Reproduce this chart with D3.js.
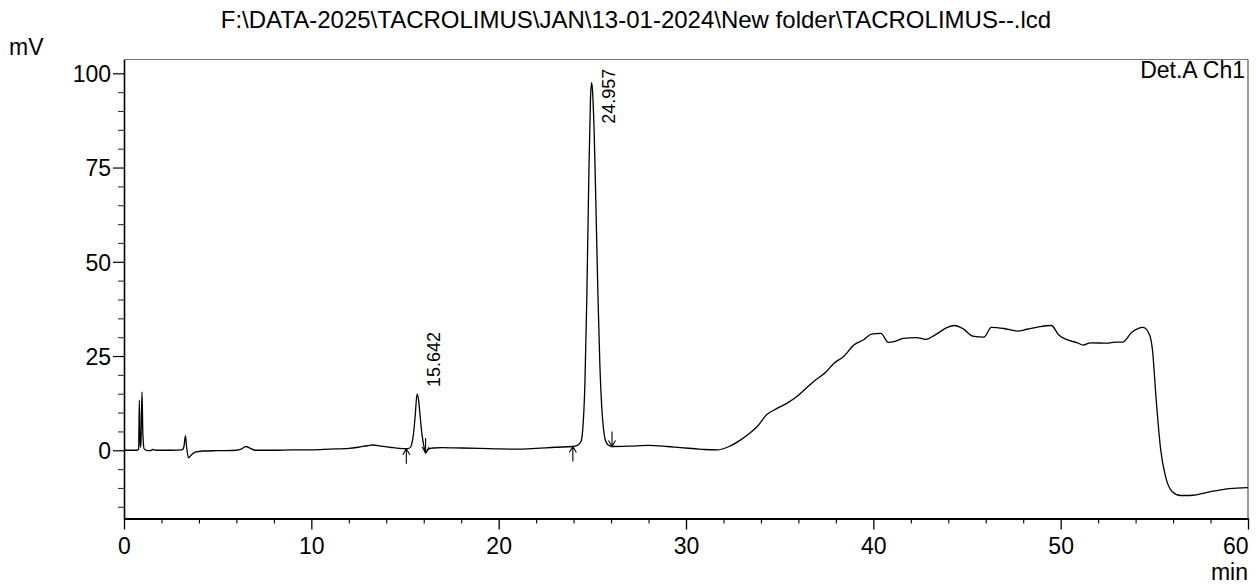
<!DOCTYPE html>
<html>
<head>
<meta charset="utf-8">
<script src="https://cdn.jsdelivr.net/npm/d3@7"></script>
<style>
  html, body { margin: 0; padding: 0; background: #fff; }
  svg { display: block; }
  text { font-family: "Liberation Sans", Arial, Helvetica, sans-serif; fill: #000; }
</style>
</head>
<body>
<svg id="chart" width="1256" height="585"></svg>
<script>
// ---- data ----
const title = "F:\\DATA-2025\\TACROLIMUS\\JAN\\13-01-2024\\New folder\\TACROLIMUS--.lcd";
const channelLabel = "Det.A Ch1";
const yUnit = "mV";
const xUnit = "min";

const timeMin = [
  0, 0.7, 0.78, 0.82, 0.86, 0.9, 0.96, 1.01, 1.08, 1.2, 1.4, 1.55, 1.7, 2.5,
  3.1, 3.2, 3.28, 3.34, 3.44, 3.6, 3.8, 4.2, 5.0, 6.0, 6.25, 6.5, 6.75, 7.0,
  8.0, 9.0, 10.0, 11.0, 12.0, 12.5, 13.0, 13.3, 13.7, 14.2, 14.7, 15.07,
  15.25, 15.35, 15.45, 15.55, 15.642, 15.72, 15.8, 15.9, 16.0, 16.1, 16.25,
  16.5, 17.0, 18.0, 19.0, 20.0, 21.0, 22.0, 23.0, 23.96, 24.2, 24.4, 24.5,
  24.6, 24.7, 24.8, 24.9, 24.957, 25.0, 25.1, 25.2, 25.3, 25.4, 25.5, 25.6,
  25.7, 25.85, 26.05, 27.0, 28.0, 29.0, 29.7, 30.5, 31.0, 31.66, 32.3, 32.9,
  33.4, 33.8, 34.3, 34.86, 35.4, 35.9, 36.4, 36.8, 37.5, 37.9, 38.4, 38.96,
  39.5, 39.9, 40.4, 40.8, 41.1, 41.6, 42.3, 42.8, 43.3, 43.95, 44.3, 44.8,
  45.3, 45.9, 46.3, 46.97, 47.7, 48.2, 48.9, 49.5, 49.9, 50.3, 50.9, 51.2,
  51.6, 52.5, 52.9, 53.3, 53.8, 54.4, 54.75, 54.9, 55.1, 55.34, 55.6, 55.96,
  56.4, 56.9, 58.2, 59.0, 60.0
];
const signalMv = [
  0, 0, 0.3, 13.3, 0.8, 1.5, 15.5, 4, 0.3, 0, -0.1, 0.2, 0, 0,
  0.1, 1.0, 3.9, 1.0, -2.0, -1.2, -0.5, -0.2, -0.1, 0, 0.3, 1.0, 0.5, 0,
  0, 0.1, 0.1, 0.3, 0.5, 0.8, 1.2, 1.4, 1.1, 0.8, 0.5, 0.4,
  0.6, 1.5, 4.2, 9.5, 14.9, 13.5, 9.5, 4.5, 1.3, -0.7, 0.3,
  0.6, 0.7, 0.6, 0.5, 0.35, 0.3, 0.5, 0.8, 1.0, 1.3, 2.4, 6.3,
  17, 39, 69, 93, 97.5, 96, 84, 63, 41, 23, 11.7, 5.5,
  2.6, 1.4, 1.0, 1.1, 1.3, 1.0, 0.7, 0.4, 0.2, 0.1, 1.0, 2.7,
  4.5, 6.3, 9.4, 11.1, 12.5, 14.2, 16.4, 18.2, 20.9, 23.1, 24.8, 27.9,
  29.4, 30.8, 31.0, 28.6, 28.8, 29.7, 29.9, 29.4, 30.6, 32.6, 33.1, 32.2,
  30.3, 30.0, 32.6, 32.3, 31.6, 32.1, 32.8, 33.1, 30.6, 29.4, 28.5, 27.9,
  28.5, 28.4, 28.7, 28.7, 31.3, 32.6, 30.6, 26.6, 13.3, 0.1, -7.0, -11.0,
  -12.0, -12.0, -10.8, -10.2, -9.9
];

const peakTimes  = [15.642, 24.957];
const peakHeights = [14.9, 97.5];
const peakLabels = ["15.642", "24.957"];
const peakStartTimes = [15.07, 23.96];
const peakStartValues = [0.4, 1.0];
const peakEndTimes = [16.1, 26.05];
const peakEndValues = [-0.7, 1.0];

const xMajorTicks = [0, 10, 20, 30, 40, 50, 60];
const yMajorTicks = [0, 25, 50, 75, 100];
const xDomain = [0, 60];
const yDomain = [-18.1, 103.66];

// ---- layout ----
const svg = d3.select("#chart");
const mLeft = 124, mRight = 1248, mTop = 59.5, mBottom = 518.5;
const FONT = 23;

const x = d3.scaleLinear().domain(xDomain).range([mLeft, mRight]);
const y = d3.scaleLinear().domain(yDomain).range([mBottom, mTop]);

// minor ticks
const xMinor = d3.range(xDomain[0], xDomain[1] + 0.001, 2).filter(v => v % 10 !== 0);
const yMinor = d3.range(-15, 101, 5).filter(v => v % 25 !== 0);

// frame (top + right in gray)
svg.append("line").attr("x1", mLeft).attr("x2", mRight).attr("y1", mTop).attr("y2", mTop)
  .attr("stroke", "#777").attr("stroke-width", 1.2);
svg.append("line").attr("x1", mRight).attr("x2", mRight).attr("y1", mTop).attr("y2", mBottom)
  .attr("stroke", "#777").attr("stroke-width", 1.5);

// x axis
const gx = svg.append("g").attr("transform", `translate(0,${mBottom})`);
gx.call(d3.axisBottom(x).tickValues(xMajorTicks).tickSize(11).tickSizeOuter(0).tickFormat(d3.format("d")));
gx.select(".domain").attr("stroke", "#000").attr("stroke-width", 2.2);
gx.selectAll(".tick line").attr("stroke", "#000").attr("stroke-width", 1.3);
gx.selectAll(".tick text").attr("font-size", FONT).attr("dy", 0).attr("y", 35)
  .attr("font-family", "Liberation Sans, Arial, sans-serif")
  .attr("text-anchor", d => d === xDomain[1] ? "end" : "middle");
const gxm = svg.append("g").attr("transform", `translate(0,${mBottom})`);
gxm.call(d3.axisBottom(x).tickValues(xMinor).tickSize(5).tickFormat(""));
gxm.select(".domain").remove();
gxm.selectAll(".tick line").attr("stroke", "#000").attr("stroke-width", 1.1);

// y axis
const gy = svg.append("g").attr("transform", `translate(${mLeft},0)`);
gy.call(d3.axisLeft(y).tickValues(yMajorTicks).tickSize(11).tickSizeOuter(0).tickFormat(d3.format("d")));
gy.select(".domain").attr("stroke", "#000").attr("stroke-width", 1.6);
gy.selectAll(".tick line").attr("stroke", "#000").attr("stroke-width", 1.2);
gy.selectAll(".tick text").attr("font-size", FONT).attr("x", -13).attr("dy", "0.36em")
  .attr("font-family", "Liberation Sans, Arial, sans-serif");
const gym = svg.append("g").attr("transform", `translate(${mLeft},0)`);
gym.call(d3.axisLeft(y).tickValues(yMinor).tickSize(6).tickFormat(""));
gym.select(".domain").remove();
gym.selectAll(".tick line").attr("stroke", "#333").attr("stroke-width", 1.1);

// texts
svg.append("text").attr("x", 636).attr("y", 28).attr("text-anchor", "middle")
  .attr("font-size", 24).text(title);
svg.append("text").attr("x", 9).attr("y", 55).attr("font-size", FONT).text(yUnit);
svg.append("text").attr("x", mRight).attr("y", 580).attr("text-anchor", "end")
  .attr("font-size", FONT).text(xUnit);
svg.append("text").attr("x", mRight - 3).attr("y", 78).attr("text-anchor", "end")
  .attr("font-size", FONT).text(channelLabel);

// trace
const pts = timeMin.map((t, i) => [t, signalMv[i]]);
const line = d3.line().x(d => x(d[0])).y(d => y(d[1])).curve(d3.curveMonotoneX);
svg.append("path").datum(pts).attr("d", line)
  .attr("fill", "none").attr("stroke", "#000").attr("stroke-width", 1.3)
  .attr("stroke-linejoin", "round");

// peak start/end arrows
function arrow(t, v, dir) {
  const px = x(t), tip = y(v), L = 15;
  const tail = dir === "up" ? tip + L : tip - L;
  const s = dir === "up" ? 1 : -1;
  svg.append("path")
    .attr("d", `M${px},${tail}L${px},${tip}M${px - 3.5},${tip + s * 6}L${px},${tip}L${px + 3.5},${tip + s * 6}`)
    .attr("fill", "none").attr("stroke", "#000").attr("stroke-width", 1.1);
}
peakStartTimes.forEach((t, i) => arrow(t, peakStartValues[i], "up"));
peakEndTimes.forEach((t, i) => arrow(t, peakEndValues[i], "down"));

// peak labels (rotated)
const LABEL_FONT = 18;
peakTimes.forEach((t, i) => {
  const len = peakLabels[i].length * 0.53 * LABEL_FONT;
  const ys = Math.max(y(peakHeights[i]) - 7, mTop + 7 + len);
  const xs = x(t) + 23;
  svg.append("text")
    .attr("transform", `translate(${xs},${ys}) rotate(-90)`)
    .attr("font-size", LABEL_FONT).attr("text-anchor", "start")
    .text(peakLabels[i]);
});
</script>
</body>
</html>
